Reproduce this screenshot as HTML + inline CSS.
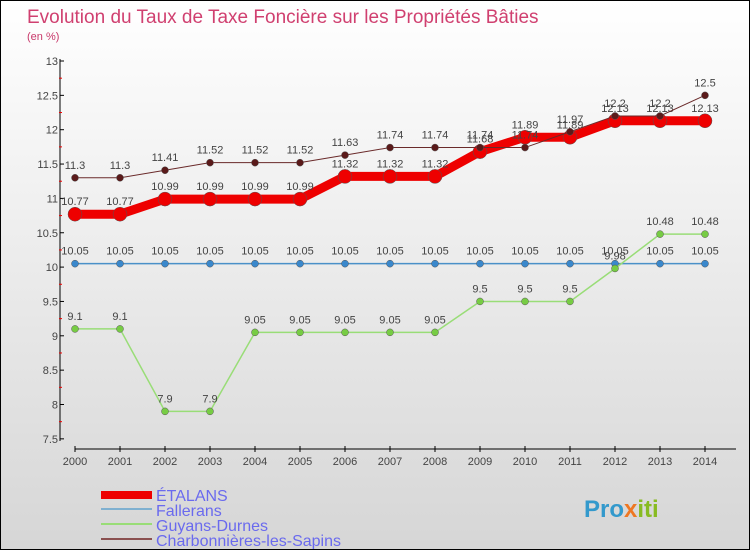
<!DOCTYPE html>
<html><head><meta charset="utf-8"><style>
body{margin:0}
#c{position:relative;width:748px;height:548px;border:1px solid #000;background:linear-gradient(#ffffff,#d6d6d6);overflow:hidden;font-family:"Liberation Sans",sans-serif}
</style></head><body>
<div id="c">
<svg id="s" width="748" height="548" style="position:absolute;left:0;top:0">
<text x="26" y="22" font-size="19" fill="#d04070" font-weight="300">Evolution du Taux de Taxe Foncière sur les Propriétés Bâties</text>
<text x="26" y="39" font-size="11" fill="#c8386a">(en %)</text>
<g id="ax"></g><g id="marks"></g>
<g>
<rect x="100" y="490" width="51" height="8" fill="#e00"/>
<text x="155" y="500" font-size="16" fill="#6a6aee">ÉTALANS</text>
<rect x="100" y="507" width="51" height="2" fill="#7fb0d0"/>
<text x="155" y="515" font-size="16" fill="#6a6aee">Fallerans</text>
<rect x="100" y="522" width="51" height="2" fill="#99dd77"/>
<text x="155" y="530" font-size="16" fill="#6a6aee">Guyans-Durnes</text>
<rect x="100" y="537" width="51" height="2" fill="#8a5050"/>
<text x="155" y="545" font-size="16" fill="#6a6aee">Charbonnières-les-Sapins</text>
</g>
<text x="583" y="516" font-size="24" font-weight="bold" fill="#3399cc">Pro<tspan fill="#ee7722">x</tspan><tspan fill="#88bb22">iti</tspan></text>
</svg>
</div>
<script>
const years=[2000,2001,2002,2003,2004,2005,2006,2007,2008,2009,2010,2011,2012,2013,2014];
const yTicks=[7.5,8,8.5,9,9.5,10,10.5,11,11.5,12,12.5,13];
const etalans=[10.77,10.77,10.99,10.99,10.99,10.99,11.32,11.32,11.32,11.68,11.89,11.89,12.13,12.13,12.13];
const fallerans=[10.05,10.05,10.05,10.05,10.05,10.05,10.05,10.05,10.05,10.05,10.05,10.05,10.05,10.05,10.05];
const guyans=[9.1,9.1,7.9,7.9,9.05,9.05,9.05,9.05,9.05,9.5,9.5,9.5,9.98,10.48,10.48];
const charb=[11.3,11.3,11.41,11.52,11.52,11.52,11.63,11.74,11.74,11.74,11.74,11.97,12.2,12.2,12.5];
const NS='http://www.w3.org/2000/svg';
const X=i=>74+i*45, Y=v=>60+(13-v)*68.7;
function mk(t,a,p){const e=document.createElementNS(NS,t);for(const k in a)e.setAttribute(k,a[k]);p.appendChild(e);return e;}
const ax=document.getElementById('ax'), mg=document.getElementById('marks');
let e=mk('line',{x1:59,y1:58,x2:59,y2:440,stroke:'#000'},ax);


e=mk('line',{x1:74,y1:448,x2:735,y2:448,stroke:'#000'},ax);


yTicks.forEach(v=>{mk('line',{x1:59,y1:Y(v),x2:63,y2:Y(v),stroke:'#000'},ax);
 if(v<13){mk('line',{x1:58,y1:Y(v+0.25),x2:61,y2:Y(v+0.25),stroke:'#e00'},ax);}
 const t=mk('text',{x:57,y:Y(v)+4,'font-size':11,fill:'#444','text-anchor':'end'},ax);t.textContent=v;
 
 });
years.forEach((y,i)=>{mk('line',{x1:X(i),y1:445,x2:X(i),y2:451,stroke:'#000'},ax);
 const t=mk('text',{x:X(i),y:464,'font-size':11,fill:'#444','text-anchor':'middle'},ax);t.textContent=y;
 
 });
function series(d,col,w,r,dot,name){
 const p=mk('polyline',{points:d.map((v,i)=>X(i)+','+Y(v)).join(' '),fill:'none',stroke:col,'stroke-width':w},mg);
 
 
 d.forEach((v,i)=>{const c=mk('circle',{cx:X(i),cy:Y(v),r:r,fill:dot,stroke:'#555','stroke-width':0.5},mg);
  
  
  const t=mk('text',{x:X(i),y:Y(v)-9,'font-size':11,fill:'#444','text-anchor':'middle'},mg);t.textContent=v;
  
  });
}
series(fallerans,'#4a90c8',1.5,3.5,'#3a88cc','fallerans');
series(guyans,'#99dd77',1.5,3.5,'#77cc44','guyans-durnes');
series(etalans,'#ee0000',9,7,'#ee0000','etalans');
series(charb,'#6a2a2a',1,3.5,'#5a1a1a','charbonnieres');
</script>
</body></html>
